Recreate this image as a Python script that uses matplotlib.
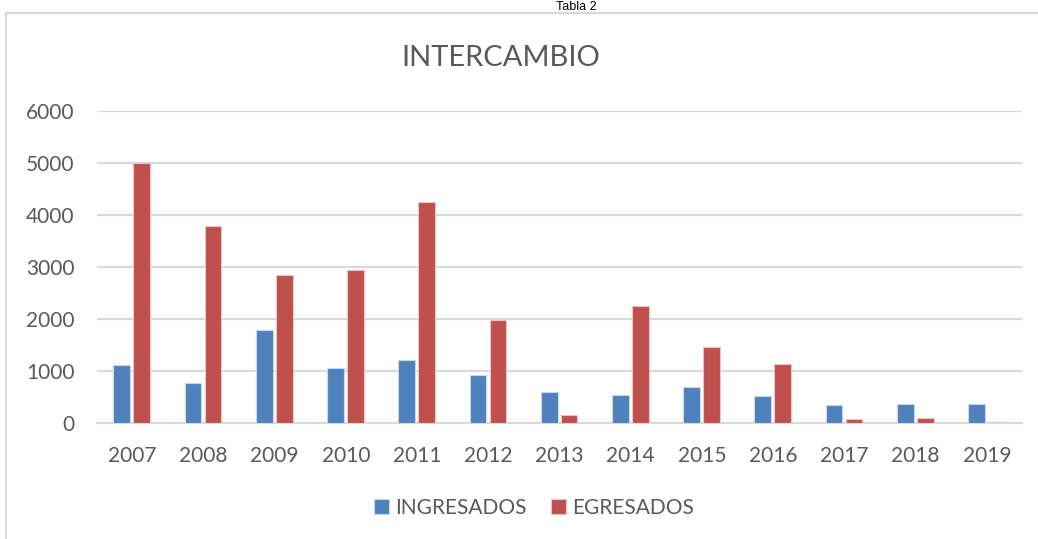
import numpy as np
from matplotlib import pyplot as plt
from matplotlib.patches import Rectangle

years = ['2007', '2008', '2009', '2010', '2011', '2012', '2013',
         '2014', '2015', '2016', '2017', '2018', '2019']
ingresados = [1115, 770, 1790, 1065, 1220, 925, 600, 545, 700, 525, 355, 380, 380]
egresados = [5000, 3790, 2855, 2950, 4260, 1990, 160, 2255, 1470, 1145, 85, 110, 35]

blue = '#4F81BD'
red = '#C0504D'
grey = '#595959'

plt.rcParams['font.family'] = ['Lato', 'DejaVu Sans']

fig = plt.figure(figsize=(10.38, 5.39), dpi=100)
ax = fig.add_axes([0.093, 0.2143, 0.892, 0.58])

x = np.arange(len(years))
w = 0.235
ax.bar(x - 0.145, ingresados, w, color=blue, edgecolor='#C9D7EA', linewidth=0.8,
       label='INGRESADOS', zorder=3)
ax.bar(x + 0.135, egresados, w, color=red, edgecolor='#EBC4C3', linewidth=0.8,
       label='EGRESADOS', zorder=3)

ax.set_xlim(-0.5, len(years) - 0.5)
ax.set_ylim(0, 6000)
ax.set_yticks(range(0, 6001, 1000))
ax.set_xticks(x)
ax.set_xticklabels(years)
ax.grid(axis='y', color='#D9D9D9', linewidth=1.5, zorder=0)
for s in ['top', 'right', 'left']:
    ax.spines[s].set_visible(False)
ax.spines['bottom'].set_color('#D9D9D9')
ax.spines['bottom'].set_linewidth(1.5)
ax.tick_params(axis='both', length=0, labelsize=15, colors=grey)
ax.tick_params(axis='y', pad=16)
ax.tick_params(axis='x', pad=16)

fig.text(501 / 1038, 1 - 58 / 539, 'INTERCAMBIO', ha='center', va='center',
         fontsize=21, color=grey)
fig.text(576 / 1038, 1 - 1 / 539, 'Tabla 2', ha='center', va='top',
         fontsize=9, color='black', family=['Liberation Sans', 'DejaVu Sans'])

# chart border
fig.patches.append(Rectangle((6 / 1038, -0.05), 1.1, 1 - 13 / 539 + 0.05,
                             transform=fig.transFigure, fill=False,
                             edgecolor='#D9D9D9', linewidth=1.5))

fig.legend(loc='center', bbox_to_anchor=(534 / 1038, 1 - 508 / 539), ncol=2,
           frameon=False, fontsize=15, labelcolor=grey, handlelength=0.7,
           handleheight=0.7, handletextpad=0.3, columnspacing=1.2)

fig.savefig('out.png', dpi=100)
